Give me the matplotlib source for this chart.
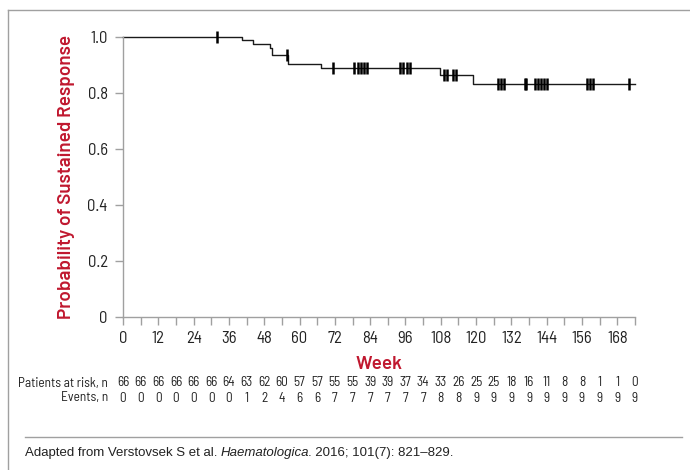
import matplotlib
matplotlib.use("Agg")
import matplotlib.pyplot as plt
from matplotlib.lines import Line2D
from matplotlib.transforms import blended_transform_factory

# ---- data ----
step_weeks = [0, 40.5, 44.3, 49.8, 50.6, 56.2, 67.2, 107.6, 118.8, 174]
step_surv = [1.0, 0.988, 0.974, 0.961, 0.937, 0.905, 0.889, 0.866, 0.832, 0.832]
censor_weeks = [32, 55.7, 71.3,
                78.6, 79.7, 80.8, 81.9, 82.9,
                94.2, 95.3, 96.4, 97.4,
                109, 110.2, 112, 113,
                127.6, 128.6, 129.6, 136.5, 137,
                140, 141, 142, 143, 144.2,
                157.7, 158.6, 159.6, 171.8]
risk_weeks = list(range(0, 175, 6))
at_risk = [66, 66, 66, 66, 66, 66, 64, 63, 62, 60, 57, 57, 55, 55, 39, 39, 37, 34,
           33, 26, 25, 25, 18, 16, 11, 8, 8, 1, 1, 0]
events = [0, 0, 0, 0, 0, 0, 0, 1, 2, 4, 6, 6, 7, 7, 7, 7, 7, 7, 8, 8, 9, 9, 9, 9,
          9, 9, 9, 9, 9, 9]
x_major = list(range(0, 169, 12))
x_minor = list(range(0, 175, 6))
y_ticks = [0, 0.2, 0.4, 0.6, 0.8, 1.0]
y_labels = ["0", "0.2", "0.4", "0.6", "0.8", "1.0"]

RED = "#c0182f"
GRAY = "#a0a0a0"
TXT = "#222222"
COND = ["Barlow Semi Condensed", "DejaVu Sans"]
BOLD = ["Barlow", "DejaVu Sans"]

plt.rcParams["font.family"] = COND

W, H = 690, 470
fig = plt.figure(figsize=(W / 100, H / 100), dpi=100)
ax = fig.add_axes([123 / W, 1 - 317 / H, (635 - 123) / W, (317 - 37) / H])


def surv_at(t):
    s = step_surv[0]
    for w, v in zip(step_weeks, step_surv):
        if w <= t:
            s = v
    return s


ax.step(step_weeks, step_surv, where="post", color="#1a1a1a", lw=1.0, clip_on=False)
cy = [surv_at(t) for t in censor_weeks]
ax.plot(censor_weeks, cy, linestyle="none", marker="|", markersize=8,
        markeredgewidth=1.8, color="black", clip_on=False)

ax.set_xlim(0, 174)
ax.set_ylim(0, 1.0)
ax.set_xticks(x_minor, minor=True)
ax.set_xticks(x_major)
ax.set_xticklabels([str(v) for v in x_major])
ax.set_yticks(y_ticks)
ax.set_yticklabels(y_labels)
for s in ["top", "right"]:
    ax.spines[s].set_visible(False)
for s in ["left", "bottom"]:
    ax.spines[s].set_color(GRAY)
    ax.spines[s].set_linewidth(1.0)
ax.tick_params(axis="both", which="both", color=GRAY, width=1.0, length=6,
               labelsize=12, labelcolor=TXT, direction="out")
ax.tick_params(axis="x", pad=4)
ax.tick_params(axis="y", pad=5)

ax.set_xlabel("Week", color=RED, fontsize=13.6, fontweight="semibold",
              family=BOLD, labelpad=7)
ax.set_ylabel("Probability of Sustained Response", color=RED, fontsize=13.6,
              fontweight="semibold", family=BOLD, labelpad=9)

tr = blended_transform_factory(ax.transData, fig.transFigure)
y1 = 1 - 383 / H
y2 = 1 - 398 / H
for w, r, e in zip(risk_weeks, at_risk, events):
    ax.text(w, y1, str(r), transform=tr, ha="center", va="center", fontsize=9.6,
            color=TXT, clip_on=False)
    ax.text(w, y2, str(e), transform=tr, ha="center", va="center", fontsize=9.6,
            color=TXT, clip_on=False)
fig.text(108 / W, y1, "Patients at risk, n", ha="right", va="center", fontsize=9.6,
         color=TXT)
fig.text(108 / W, y2, "Events, n", ha="right", va="center", fontsize=9.6,
         color=TXT)

# border lines
fig.add_artist(Line2D([8 / W, 8 / W], [0, 1 - 10 / H], color=GRAY, lw=1.0))
fig.add_artist(Line2D([8 / W, 1], [1 - 10 / H, 1 - 10 / H], color=GRAY, lw=1.0))
fig.add_artist(Line2D([25 / W, 682 / W], [1 - 437 / H, 1 - 437 / H], color=GRAY, lw=1.0))

# footer with italic piece
fig.canvas.draw()
renderer = fig.canvas.get_renderer()
pieces = [("Adapted from Verstovsek S et al. ", "normal", 0),
          ("Haematologica", "italic", -2),
          (". 2016; 101(7): 821\u2013829.", "normal", 0)]
x = 25
fy = 1 - 453 / H
for txt, st, adj in pieces:
    t = fig.text(x / W, fy, txt, ha="left", va="center", fontsize=9.5, style=st,
                 family=["Liberation Sans", "DejaVu Sans"], color=TXT)
    bb = t.get_window_extent(renderer=renderer)
    x += bb.width + adj

fig.savefig("out.png", dpi=100)
